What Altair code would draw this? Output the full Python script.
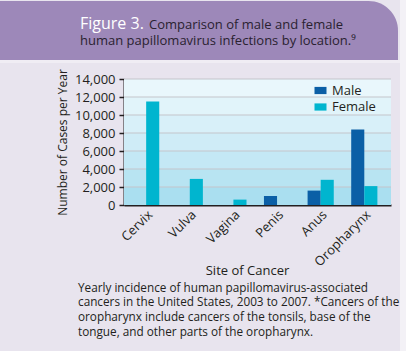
import altair as alt
import pandas as pd

# ---- data ----
sites = ["Cervix", "Vulva", "Vagina", "Penis", "Anus", "Oropharynx"]
male_cases = [0, 0, 0, 1000, 1600, 8400]
female_cases = [11500, 2900, 600, 0, 2800, 2100]
sexes = ["Male", "Female"]
y_ticks = [0, 2000, 4000, 6000, 8000, 10000, 12000, 14000]

fig_label = "Figure 3."
title_line1 = "Comparison of male and female"
title_line2 = "human papillomavirus infections by location.\u2079"
y_title = "Number of Cases per Year"
x_title = "Site of Cancer"
caption_lines = [
    "Yearly incidence of human papillomavirus-associated",
    "cancers in the United States, 2003 to 2007. *Cancers of the",
    "oropharynx include cancers of the tonsils, base of the",
    "tongue, and other parts of the oropharynx.",
]

rows = []
for s, m, f in zip(sites, male_cases, female_cases):
    if m > 0:
        rows.append({"site": s, "sex": "Male", "value": m})
    if f > 0:
        rows.append({"site": s, "sex": "Female", "value": f})
df = pd.DataFrame(rows)

MALE = "#0b5fa6"
FEMALE = "#00b5cf"
DARK = "#231f20"
FONT = "Open Sans"
W, H = 267, 126

one = pd.DataFrame({"k": [0]})

# ---- decorations ----
header = alt.Chart(one).mark_rect(color="#9d88b9", cornerRadiusTopRight=55).encode(
    x=alt.value(-124), x2=alt.value(274), y=alt.value(-78), y2=alt.value(-19)
)
strip = alt.Chart(one).mark_rect(color="#f0edf4").encode(
    x=alt.value(-124), x2=alt.value(276), y=alt.value(-19), y2=alt.value(-16)
)
right_edge = alt.Chart(one).mark_rect(color="#f3f1f6").encode(
    x=alt.value(276), x2=alt.value(282), y=alt.value(-79), y2=alt.value(272)
)

t_fig = alt.Chart(one).mark_text(
    text=fig_label, font=FONT, fontSize=16, color="white", align="left", baseline="alphabetic"
).encode(x=alt.value(-44), y=alt.value(-50.5))
t_l1 = alt.Chart(one).mark_text(
    text=title_line1, font=FONT, fontSize=13, color="#2a2230", align="left", baseline="alphabetic"
).encode(x=alt.value(25), y=alt.value(-50.5))
t_l2 = alt.Chart(one).mark_text(
    text=title_line2, font=FONT, fontSize=13, color="#2a2230", align="left", baseline="alphabetic"
).encode(x=alt.value(-44), y=alt.value(-33.7))

caption = alt.Chart(one).mark_text(
    text=caption_lines, font=FONT, fontSize=11.75, color=DARK, align="left",
    baseline="alphabetic", lineHeight=14.7
).encode(x=alt.value(-46), y=alt.value(212.5))

# ---- plot background (banded gradient) and grid ----
band_colors = ["#e9f7fc", "#e1f4fa", "#d8f0f9", "#cfecf7", "#c4e8f5", "#b8e4f2", "#aadff0"]
stops = []
for i, c in enumerate(band_colors):
    stops.append(alt.GradientStop(offset=i / 7, color=c))
    stops.append(alt.GradientStop(offset=(i + 1) / 7 - 1e-4, color=c))
gradient = alt.LinearGradient(gradient="linear", x1=0, y1=0, x2=0, y2=1, stops=stops)

plot_bg = alt.Chart(one).mark_rect(color=gradient).encode(
    x=alt.value(0), x2=alt.value(W), y=alt.value(0), y2=alt.value(H)
)

y_enc = alt.Y(
    "value:Q",
    scale=alt.Scale(domain=[0, 14000], nice=False),
    axis=alt.Axis(
        title=y_title, values=y_ticks, format=",.0f", labelFont=FONT, labelFontSize=13,
        labelColor=DARK, tickColor=DARK, tickSize=5, tickWidth=1.5, labelPadding=4,
        domainColor=DARK, domainWidth=2, grid=False,
        titleFont=FONT, titleFontSize=12, titleFontWeight="normal", titleColor=DARK,
        titleX=-62, titleY=63, titleAlign="center", titleBaseline="middle", titleAngle=-90,
    ),
)

grid = alt.Chart(pd.DataFrame({"value": y_ticks[1:]})).mark_rule(
    color="#c4c5cb", strokeWidth=1
).encode(y=y_enc)

# ---- bars ----
bars = alt.Chart(df).mark_bar().encode(
    x=alt.X(
        "site:N", sort=sites,
        scale=alt.Scale(domain=sites, paddingInner=0.4, paddingOuter=0.26, align=0.4),
        axis=alt.Axis(
            title=x_title, labelAngle=-45, labelAlign="right", labelBaseline="top",
            ticks=False, labelPadding=3, labelFont=FONT, labelFontSize=13, labelColor=DARK,
            domainColor=DARK, domainWidth=2, titleFont=FONT, titleFontSize=13,
            titleFontWeight="normal", titleColor=DARK, titleX=123, titleY=69.5,
            titleBaseline="alphabetic", titleAlign="center",
        ),
    ),
    xOffset=alt.XOffset("sex:N", scale=alt.Scale(domain=sexes, paddingInner=0, paddingOuter=0)),
    y=y_enc,
    color=alt.Color(
        "sex:N",
        scale=alt.Scale(domain=sexes, range=[MALE, FEMALE]),
        legend=alt.Legend(
            orient="none", legendX=190, legendY=5, title=None,
            symbolType="M-1,-0.6H1V0.6H-1Z", symbolSize=144, symbolStrokeWidth=0,
            symbolOpacity=1, labelFont=FONT, labelFontSize=13, labelColor=DARK,
            labelOffset=5, rowPadding=2.5, padding=0,
        ),
    ),
)

chart = alt.layer(header, strip, right_edge, t_fig, t_l1, t_l2, caption, plot_bg, grid, bars).properties(
    width=W, height=H,
    autosize=alt.AutoSizeParams(type="none"),
    padding={"left": 124, "top": 79, "right": 15, "bottom": 146},
    background="#e8e4ee",
).configure_view(stroke=None)

chart.save("out.html", embed_options={"renderer": "svg", "actions": False})
